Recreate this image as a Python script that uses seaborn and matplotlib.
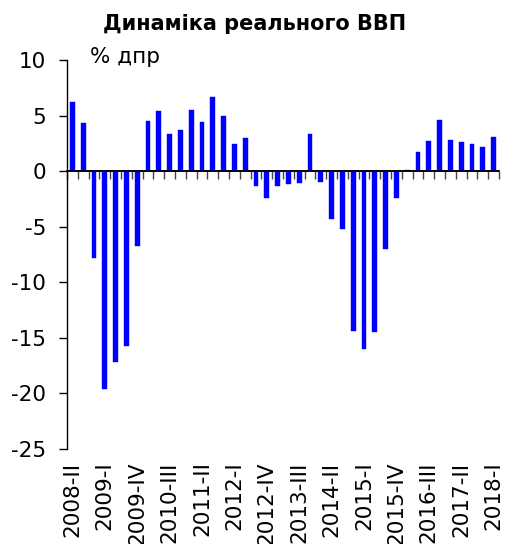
import numpy as np
import pandas as pd
import matplotlib
matplotlib.use('Agg')
import matplotlib.pyplot as plt
import seaborn as sns

# квартали та реальний ВВП, % до попереднього року
kvartaly = ['2008-II', '2008-III', '2008-IV',
            '2009-I', '2009-II', '2009-III', '2009-IV',
            '2010-I', '2010-II', '2010-III', '2010-IV',
            '2011-I', '2011-II', '2011-III', '2011-IV',
            '2012-I', '2012-II', '2012-III', '2012-IV',
            '2013-I', '2013-II', '2013-III', '2013-IV',
            '2014-I', '2014-II', '2014-III', '2014-IV',
            '2015-I', '2015-II', '2015-III', '2015-IV',
            '2016-I', '2016-II', '2016-III', '2016-IV',
            '2017-I', '2017-II', '2017-III', '2017-IV',
            '2018-I']
vvp = [6.2, 4.3, -7.8,
       -19.6, -17.2, -15.7, -6.7,
       4.5, 5.4, 3.3, 3.7,
       5.5, 4.4, 6.7, 5.0,
       2.4, 3.0, -1.3, -2.4,
       -1.3, -1.2, -1.1, 3.3,
       -1.0, -4.3, -5.2, -14.4,
       -16.0, -14.5, -7.0, -2.4,
       0.1, 1.7, 2.7, 4.6,
       2.8, 2.6, 2.4, 2.2,
       3.1]
y_ticks = [10, 5, 0, -5, -10, -15, -20, -25]

df = pd.DataFrame({'kvartal': kvartaly, 'vvp': vvp})

sns.set_style('white')
plt.rcParams['font.family'] = ['DejaVu Sans']
plt.rcParams['text.color'] = 'black'
plt.rcParams['xtick.color'] = 'black'
plt.rcParams['ytick.color'] = 'black'
plt.rcParams['axes.unicode_minus'] = False

fig = plt.figure(figsize=(5.06, 5.44), dpi=100)
ax = fig.add_axes([67 / 506, 1 - 449 / 544, 432 / 506, 389 / 544])

sns.barplot(data=df, x='kvartal', y='vvp', order=kvartaly, color='#0000FF',
            saturation=1, width=0.45, edgecolor='#0000FF', linewidth=0.3, ax=ax)

ax.set_ylim(-25, 10)
ax.set_xlim(-0.5, len(kvartaly) - 0.5)
ax.set_yticks(y_ticks)
ax.set_yticklabels([str(t) for t in y_ticks], fontsize=15.5)
ax.tick_params(axis='y', direction='out', length=6, width=1, left=True, pad=9)

# підписи кожного третього кварталу внизу
pos = np.arange(0, len(kvartaly), 3)
ax.set_xticks(pos)
ax.set_xticklabels([kvartaly[i] for i in pos], rotation=90, fontsize=15.5)
ax.tick_params(axis='x', length=0, pad=9)

ax.set_xlabel('')
ax.set_ylabel('')
for s in ['top', 'right', 'bottom']:
    ax.spines[s].set_visible(False)
ax.spines['left'].set_color('black')
ax.spines['left'].set_linewidth(1)

# лінія нуля поверх стовпчиків
ax.axhline(0, color='black', linewidth=1.2, zorder=5)

# рисками між стовпчиками на нульовій осі
sec = ax.secondary_xaxis(0, transform=ax.transData)
sec.set_xticks(np.arange(-0.5, len(kvartaly), 1))
sec.set_xticklabels([])
sec.tick_params(axis='x', direction='out', length=6, width=1, color='#444444')
sec.spines['bottom'].set_color('black')
sec.spines['bottom'].set_linewidth(1.2)

fig.text(255 / 506, 1 - 24 / 544, 'Динаміка реального ВВП', ha='center', va='center',
         fontsize=15, fontweight='bold')
fig.text(90 / 506, 1 - 57 / 544, '% дпр', ha='left', va='center', fontsize=15.5)

plt.savefig('out.png', dpi=100)
